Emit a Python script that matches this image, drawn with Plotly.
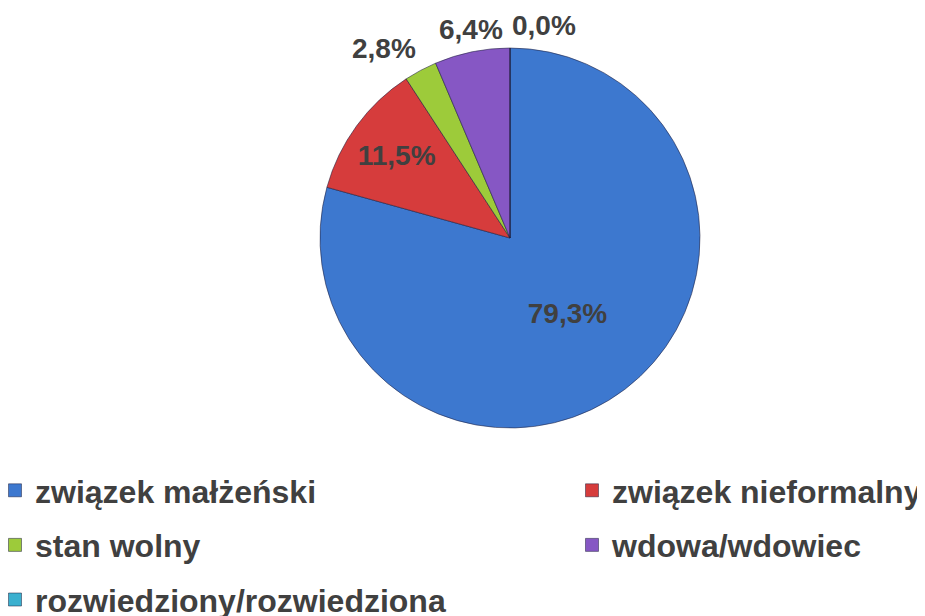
import math
import plotly.graph_objects as go

categories = ["związek małżeński", "związek nieformalny", "stan wolny",
              "wdowa/wdowiec", "rozwiedziony/rozwiedziona"]
values = [79.3, 11.5, 2.8, 6.4, 0.0]
colors = ["#3d78cf", "#d63c3c", "#9dcb3a", "#8657c4", "#3bb0cf"]
text_positions = ["inside", "inside", "none", "none", "none"]

labels_txt = [f"{v:.1f}%".replace(".", ",") for v in values]

# the page body has an 8px margin; size the figure to fill the rest of the 925x616 window
OFF = 8
W, H = 925 - OFF, 616 - OFF


def fx(sx):  # screen x -> paper fraction
    return (sx - OFF) / W


def fy(sy):  # screen y -> paper fraction
    return (H - (sy - OFF)) / H


cx, cy, r = 510, 238, 190  # screen pixels

font_family = "Liberation Sans, Arial, sans-serif"
label_font = dict(family=font_family, size=28, color="#404040", weight="bold")

fig = go.Figure()
fig.add_trace(go.Pie(
    labels=categories,
    values=values,
    text=labels_txt,
    texttemplate="%{text}",
    textposition=text_positions,
    insidetextorientation="horizontal",
    sort=False,
    direction="clockwise",
    rotation=0,
    marker=dict(colors=colors, line=dict(color="rgba(30,30,60,0.55)", width=1)),
    textfont=label_font,
    showlegend=False,
    hoverinfo="skip",
    domain=dict(x=[fx(cx - r), fx(cx + r)], y=[fy(cy + r), fy(cy - r)]),
))

# outside labels for the small slices, placed at each slice's mid-angle (derived from values)
total = sum(values)
cum = 0.0
for v, t, pos in zip(values, labels_txt, text_positions):
    mid = (cum + v / 2) / total * 2 * math.pi
    cum += v
    if pos != "none":
        continue
    R = r + 5
    px = cx + math.sin(mid) * R
    py = cy - math.cos(mid) * R
    s = math.sin(mid)
    xanchor = "right" if s < -0.35 else ("center" if s < -0.05 else "left")
    fig.add_annotation(
        x=fx(px), y=fy(py), xref="paper", yref="paper",
        text=t, showarrow=False, xanchor=xanchor, yanchor="bottom",
        font=label_font,
    )

# legend proxies (two columns)
legend_assign = ["legend", "legend2", "legend", "legend2", "legend"]
for name, col, lg in zip(categories, colors, legend_assign):
    fig.add_trace(go.Scatter(
        x=[None], y=[None], mode="markers", name=name,
        marker=dict(symbol="square", size=13, color=col,
                    line=dict(color="rgba(30,30,60,0.5)", width=1)),
        legend=lg, legendgroup=name, showlegend=True, hoverinfo="skip",
    ))

legend_font = dict(family=font_family, size=32, color="#404040", weight="bold")
fig.update_layout(
    width=W, height=H,
    margin=dict(l=0, r=0, t=0, b=0, autoexpand=False),
    paper_bgcolor="white", plot_bgcolor="white",
    xaxis=dict(visible=False), yaxis=dict(visible=False),
    legend=dict(x=fx(-5), y=fy(463), xanchor="left", yanchor="top",
                orientation="v", font=legend_font, tracegroupgap=10,
                itemwidth=30, bgcolor="rgba(0,0,0,0)"),
    legend2=dict(x=fx(572), y=fy(463), xanchor="left", yanchor="top",
                 orientation="v", font=legend_font, tracegroupgap=10,
                 itemwidth=30, bgcolor="rgba(0,0,0,0)"),
)

fig.write_html("out.html")
